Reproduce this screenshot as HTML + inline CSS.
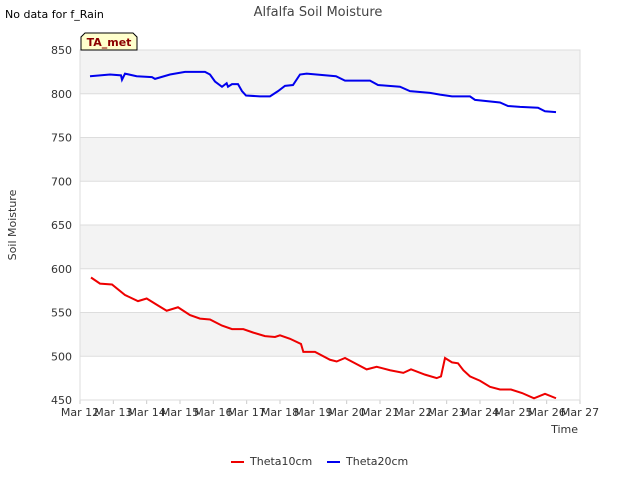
<!DOCTYPE html>
<html><head><meta charset="utf-8"><style>
body{margin:0;background:#fff;font-family:"DejaVu Sans","Liberation Sans",sans-serif;}
svg text{font-family:"DejaVu Sans","Liberation Sans",sans-serif;}
</style></head><body>
<svg id="c" width="640" height="480" xmlns="http://www.w3.org/2000/svg">
<text x="5" y="18" font-size="11" fill="#000">No data for f_Rain</text>
<text x="318" y="16" font-size="13" fill="#444" text-anchor="middle">Alfalfa Soil Moisture</text>
<g id="bands"></g>
<g id="grid"></g>
<g id="axes"></g>
<g id="series"></g>
<text x="16" y="225" font-size="11" fill="#333" text-anchor="middle" transform="rotate(-90 16 225)">Soil Moisture</text>
<text x="578" y="433" font-size="11" fill="#333" text-anchor="end">Time</text>
<g>
<path d="M81,50 L81,37 L85,33 L133,33 L137,37 L137,50 Z" fill="#ffffcc" stroke="#000" stroke-width="1"/>
<text x="109" y="46" font-size="11" font-weight="bold" fill="#8b0000" text-anchor="middle">TA_met</text>
</g>
<g>
<g><line x1="231" y1="462" x2="244" y2="462" stroke="#e00" stroke-width="2"/><text x="250" y="465" font-size="11" fill="#333">Theta10cm</text></g>
<g><line x1="327" y1="462" x2="340" y2="462" stroke="#00e" stroke-width="2"/><text x="346" y="465" font-size="11" fill="#333">Theta20cm</text></g>
</g>
</svg>
<script>
const xTickLabels=["Mar 12","Mar 13","Mar 14","Mar 15","Mar 16","Mar 17","Mar 18","Mar 19","Mar 20","Mar 21","Mar 22","Mar 23","Mar 24","Mar 25","Mar 26","Mar 27"];
const yTicks=[450,500,550,600,650,700,750,800,850];
const redDays=[0.33,0.6,0.96,1.35,1.74,2.0,2.34,2.6,2.94,3.3,3.6,3.9,4.26,4.56,4.9,5.2,5.55,5.85,6.0,6.3,6.63,6.7,7.05,7.5,7.7,7.95,8.25,8.6,8.9,9.3,9.7,9.93,10.35,10.7,10.83,10.95,11.16,11.34,11.5,11.7,12.0,12.3,12.6,12.93,13.26,13.62,13.95,14.28];
const redVals=[590,583,582,570,563,566,558,552,556,547,543,542,535,531,531,527,523,522,524,520,514,505,505,496,494,498,492,485,488,484,481,485,479,475,477,498,493,492,484,477,472,465,462,462,458,452,457,452];
const blueDays=[0.3,0.9,1.23,1.26,1.35,1.7,2.16,2.25,2.7,3.15,3.75,3.9,4.05,4.26,4.4,4.44,4.56,4.74,4.86,4.98,5.4,5.7,5.94,6.15,6.39,6.6,6.8,7.68,7.95,8.7,8.94,9.6,9.9,10.5,10.8,11.16,11.7,11.85,12.6,12.84,13.2,13.74,13.95,14.28];
const blueVals=[820,822,821,816,823,820,819,817,822,825,825,822,814,808,812,808,811,811,803,798,797,797,803,809,810,822,823,820,815,815,810,808,803,801,799,797,797,793,790,786,785,784,780,779];
const L=80,R=580,T=50,B=400,ns="http://www.w3.org/2000/svg";
const xs=d=>L+(R-L)*d/15, ys=v=>B-(B-T)*(v-450)/400;
function mk(p,t,a){const e=document.createElementNS(ns,t);for(const k in a)e.setAttribute(k,a[k]);document.getElementById(p).appendChild(e);return e;}
for(let i=0;i<yTicks.length-1;i++){
 const r=mk('bands','rect',{x:L,y:ys(yTicks[i+1]),width:R-L,height:ys(yTicks[i])-ys(yTicks[i+1]),fill:i%2?'#f3f3f3':'#fff'});
 
 
}
yTicks.forEach(v=>{
 const l=mk('grid','line',{x1:L,x2:R,y1:ys(v),y2:ys(v),stroke:'#ddd'});
 
 
 const t=mk('axes','text',{x:L-8,y:ys(v)+4,'font-size':11,fill:'#333','text-anchor':'end'});t.textContent=v;
 
 
});
xTickLabels.forEach((s,i)=>{
 const t=mk('axes','text',{x:xs(i),y:B+16,'font-size':11,fill:'#333','text-anchor':'middle'});t.textContent=s;
 
 
 mk('axes','line',{x1:xs(i),x2:xs(i),y1:B,y2:B+4,stroke:'#ccc'});
});
mk('axes','rect',{x:L,y:T,width:R-L,height:B-T,fill:'none',stroke:'#ddd'});
function line(d,v,c,n){
 const p=mk('series','polyline',{points:d.map((x,i)=>xs(x)+','+ys(v[i])).join(' '),fill:'none',stroke:c,'stroke-width':2});
 
 
}
line(redDays,redVals,'#e00','theta10cm-line');
line(blueDays,blueVals,'#00e','theta20cm-line');
</script>
</body></html>
